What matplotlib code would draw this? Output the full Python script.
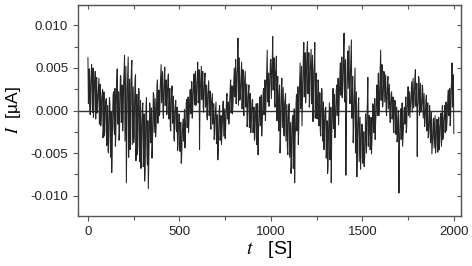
import numpy as np
import matplotlib.pyplot as plt
from matplotlib.ticker import MultipleLocator

# current, in units of 1e-3 uA
# samples at t = 0, 10, 20, ... 2000 s
step = 10
current = [
    6.2, 0.5, 5.4, -0.8, 4.6, -0.3, 3.8, -1.8, 2.5, -3.0,
    1.4, -4.8, 0.8, -7.3, 2.2, -4.2, 4.9, -3.5, 3.9, -2.4,
    6.5, -8.5, 6.3, -4.6, 5.9, -3.8, 4.2, -5.2, 2.0, -6.8,
    0.9, -8.3, 1.5, -9.2, 0.2, -5.6, 1.8, -3.1, 3.6, -0.6,
    5.4, 0.2, 5.1, -0.5, 4.3, -1.9, 2.9, -3.2, 1.2, -4.7,
    -0.6, -6.2, -1.0, -4.4, 1.3, -2.6, 2.5, -0.9, 4.3, 0.6,
    5.7, -4.6, 5.2, 0.4, 4.4, -0.6, 3.5, -1.8, 2.0, -3.4,
    1.0, -5.8, 0.6, -4.0, 1.1, -3.3, 2.0, -1.6, 3.6, -0.4,
    5.0, 0.8, 8.5, 1.2, 5.7, 0.3, 4.6, -1.9, 3.0, -2.6,
    1.3, -3.5, 0.8, -5.2, 1.6, -3.0, 2.6, -1.2, 7.1, 0.5,
    6.0, 8.7, 1.2, 6.4, -0.4, -5.0, 3.8, -2.1, 2.0, -4.4,
    0.8, -7.4, -0.6, -8.5, 1.9, -4.0, 5.6, -1.8, 8.0, 0.9,
    8.1, 0.4, 7.2, -1.3, 8.0, -0.2, 3.3, -2.4, 2.2, -4.6,
    0.4, -7.4, 0.9, -8.5, 2.6, -3.2, 3.0, -1.7, 5.6, 1.5,
    9.1, -7.6, 7.0, 2.0, 8.3, -3.8, 5.0, -7.8, 1.5, -6.9,
    -1.9, -6.6, -2.4, 3.9, -1.2, -5.1, 0.3, -3.4, 3.0, -0.6,
    7.1, 0.4, 4.4, 0.1, 4.0, -0.5, 2.2, -2.3, 1.0, -3.7,
    -9.7, 0.2, -4.2, 0.4, -2.6, 2.8, -0.8, 3.4, 0.3, 4.8,
    -5.4, 3.6, -0.2, 2.6, -1.9, 1.8, -3.2, -0.4, -5.1, -0.9,
    -5.0, -1.4, -4.6, -0.3, -3.4, 0.6, -2.4, 2.4, -1.8, 5.6,
    -2.7,
]
# samples at t = 5, 15, 25, ... 1995 s
current_mid = [
    2.1, 3.3, -0.2, 2.9, 1.0, 1.8, -0.9, 1.4, -2.2, 0.3,
    -2.6, -1.0, -5.5, -0.9, -2.8, 1.0, -1.2, 1.7, -0.8, 3.2,
    1.1, 2.4, -1.5, 3.0, -0.5, 1.0, -2.8, 0.1, -3.9, -1.5,
    -5.2, -2.6, -6.4, -3.2, -2.1, -1.5, -0.8, 0.5, 1.0, 2.6,
    3.0, 2.2, 1.6, 2.4, 0.5, 1.2, -1.0, -0.2, -2.5, -1.8,
    -3.6, -2.9, -2.3, -0.8, -1.0, 0.4, 0.2, 2.0, 1.5, 3.0,
    1.4, 2.8, 1.8, 2.7, 1.0, 1.9, 0.2, 0.9, -1.3, -0.6,
    -2.5, -1.9, -2.8, -1.2, -1.4, -0.5, -0.2, 1.2, 0.8, 2.1,
    3.0, 4.5, 3.6, 2.8, 2.2, 3.0, 1.0, 1.5, -0.4, 0.3,
    -1.6, -0.7, -2.5, -1.3, -0.9, -0.2, 0.2, 2.8, 2.5, 4.1,
    3.5, 4.0, 4.4, 2.5, 1.8, 0.6, 0.2, 0.9, -1.6, -0.9,
    -3.5, -2.2, -4.6, -2.0, -1.3, 1.6, 1.2, 3.9, 3.5, 5.2,
    4.1, 5.0, 2.8, 4.6, 2.5, 1.4, 0.5, 0.9, -1.2, -0.5,
    -3.8, -2.5, -4.4, -1.5, -0.8, 0.3, 0.6, 2.3, 3.0, 4.4,
    3.6, 2.5, 5.0, 4.4, 2.0, 1.0, -1.4, -2.0, -3.5, -2.5,
    -4.6, -4.0, -0.9, -2.6, -3.0, -1.6, -2.0, -0.3, 1.2, 2.5,
    3.6, 2.3, 2.6, 1.8, 1.6, 0.8, -0.3, 0.2, -1.6, -1.0,
    -2.6, -1.6, -2.0, -0.9, 0.3, 0.8, 1.2, 1.8, 2.6, 1.4,
    1.0, 1.4, 0.8, 0.4, 0.0, -1.1, -1.6, -2.6, -3.0, -2.4,
    -2.7, -3.2, -1.8, -2.2, -1.0, -1.3, 0.0, 0.4, 2.2, 1.0,
]
# samples at t = 2.5, 7.5, 12.5, ... 1997.5 s
current_quarter = [
    0.8, 4.9, -0.5, 4.2, 1.2, 5.0, 0.2, 3.6, -1.0, 3.9, 0.5, 2.7, -1.6, 3.1, -0.8, 1.9, -3.2, 2.2, -2.4, 1.0,
    -4.1, 0.6, -5.0, 1.5, -3.3, -0.2, -4.6, 1.8, -2.0, 2.6, -3.0, 3.4, -1.6, 2.2, -2.5, 4.1, -1.4, 3.0, -0.9, 4.6,
    -3.6, 5.2, -3.0, 4.4, -5.5, 3.7, -2.4, 4.8, -4.0, 2.8, -3.2, 3.6, -5.9, 1.9, -4.4, 2.6, -6.0, 1.2, -4.8, 0.4,
    -6.6, -0.4, -7.0, 0.6, -5.0, -1.2, -6.1, 0.9, -3.8, 0.3, -4.1, 2.1, -2.6, 1.4, -2.0, 3.0, -1.5, 2.4, -0.3, 4.0,
    0.9, 4.6, -0.9, 4.2, 0.6, 3.6, -0.4, 3.9, -1.0, 2.6, -2.4, 2.2, -1.5, 1.7, -3.6, 0.6, -2.2, 0.4, -4.0, -0.4,
    -4.8, -1.4, -5.4, -1.9, -3.6, 0.1, -3.2, 0.9, -2.0, 1.6, -1.2, 2.3, -0.4, 3.4, 0.0, 2.9, 0.7, 4.6, 0.9, 4.0,
    0.9, 4.8, 0.6, 4.1, 1.3, 4.6, -0.2, 3.8, 0.4, 3.0, -1.1, 2.8, -0.6, 2.3, -2.2, 1.4, -1.6, 0.8, -2.8, 0.3,
    -3.9, -0.5, -4.6, 0.1, -3.5, -0.6, -2.7, 0.8, -3.0, 0.2, -2.2, 1.4, -1.0, 1.0, -0.8, 2.6, -0.3, 2.9, 0.6, 3.3,
    1.6, 6.0, 2.0, 5.2, 0.6, 6.2, 1.5, 4.4, 0.2, 4.8, -0.6, 3.8, 0.4, 3.1, -1.2, 2.4, -2.0, 2.0, -1.4, 1.2,
    -2.6, 0.4, -3.2, -0.2, -4.0, 0.8, -2.3, 1.1, -1.8, 1.8, -1.4, 2.0, -0.5, 3.6, 0.4, 5.0, 1.0, 4.4, 1.8, 5.8,
    1.4, 5.6, 2.4, 6.2, 0.4, 4.8, -1.2, 4.0, -2.4, 3.0, -3.4, 2.5, -2.0, 2.7, -3.0, 1.3, -3.6, 0.7, -5.2, 0.3,
    -5.5, -1.4, -6.3, -0.9, -6.8, 0.2, -3.1, 0.8, -2.4, 2.8, -2.0, 3.6, 0.2, 5.2, 1.0, 6.4, 1.6, 6.8, 2.2, 7.1,
    2.0, 6.8, 1.6, 6.0, 0.8, 6.5, 1.1, 5.6, -0.9, 4.4, -1.0, 3.6, -1.8, 2.1, -3.0, 2.6, -3.6, 1.0, -2.9, 0.2,
    -5.6, -1.2, -6.6, -0.6, -5.8, 0.4, -2.8, 1.2, -2.1, 1.9, -1.0, 2.4, -0.6, 3.8, 0.5, 4.5, 1.8, 6.3, 2.4, 7.4,
    1.0, 6.0, -1.2, 5.6, 2.6, 7.6, 0.8, 6.2, -0.9, 4.0, -1.8, 3.0, -5.0, 2.2, -4.2, 0.6, -6.0, -0.8, -5.4, -1.6,
    -6.2, -2.5, -5.6, -0.4, -5.0, 1.1, -4.2, -0.6, -4.6, -0.8, -3.6, 0.8, -2.6, 1.4, -1.4, 2.0, -0.6, 4.4, 0.3, 4.8,
    1.2, 5.4, 0.6, 4.6, 1.0, 4.2, -0.6, 3.4, 0.2, 3.1, -1.4, 2.0, -1.0, 1.6, -2.6, 1.2, -2.8, 0.4, -3.0, 0.0,
    -4.4, -0.6, -3.4, 0.9, -3.0, 0.0, -1.6, 1.6, -1.8, 1.0, -0.6, 2.2, 0.3, 2.6, -0.2, 3.8, 0.8, 4.0, 0.5, 3.2,
    0.4, 4.0, -0.6, 3.2, 0.2, 3.0, -0.9, 2.0, -1.4, 1.2, -2.4, 0.9, -2.8, 0.6, -3.8, -0.2, -4.0, -1.0, -4.4, -0.6,
    -4.2, -1.0, -4.9, -0.8, -3.8, -1.6, -4.2, 0.6, -2.8, -0.4, -2.6, 1.0, -1.4, 1.6, -0.6, 2.6, -0.8, 3.4, 0.4, 4.2,
]

t_main = np.arange(len(current)) * step
t_mid = np.arange(len(current_mid)) * step + step / 2
t_quarter = np.arange(len(current_quarter)) * step / 2 + step / 4
t = np.concatenate([t_main, t_mid, t_quarter])
I = np.concatenate([current, current_mid, current_quarter]) * 1e-3
order = np.argsort(t)
t, I = t[order], I[order]

plt.rcParams['font.family'] = ['Liberation Sans', 'DejaVu Sans']
plt.rcParams['mathtext.fontset'] = 'stix'

fig = plt.figure(figsize=(4.72, 2.66), dpi=100)
ax = fig.add_axes([0.165, 0.188, 0.812, 0.793])

ax.axhline(0, color='#333333', lw=1.0, zorder=1)
ax.plot(t, I, color='#262626', lw=0.75, zorder=2)

ax.set_xlim(-55, 2040)
ax.set_ylim(-0.0124, 0.0124)
ax.xaxis.set_major_locator(MultipleLocator(500))
ax.xaxis.set_minor_locator(MultipleLocator(250))
ax.yaxis.set_major_locator(MultipleLocator(0.005))
ax.yaxis.set_minor_locator(MultipleLocator(0.0025))
ax.yaxis.set_major_formatter(plt.FuncFormatter(lambda v, p: f"{v:.3f}"))

for s in ax.spines.values():
    s.set_color('#555555')
    s.set_linewidth(1.0)

ax.tick_params(which='both', direction='out', length=3, width=0.8,
               color='#555555', labelsize=9.5, labelcolor='#222222')
ax.tick_params(which='major', length=3.5)

# inward ticks on top and right
sx = ax.secondary_xaxis('top')
sx.xaxis.set_major_locator(MultipleLocator(250))
sx.tick_params(direction='in', length=3, width=0.8, color='#555555', labeltop=False)
sx.spines['top'].set_color('#555555')
sy = ax.secondary_yaxis('right')
sy.yaxis.set_major_locator(MultipleLocator(0.0025))
sy.tick_params(direction='in', length=3, width=0.8, color='#555555', labelright=False)
sy.spines['right'].set_color('#555555')

ax.set_xlabel(r'$t$   [S]', fontsize=14, labelpad=1)
ax.set_ylabel(r'$I$  [µA]', fontsize=12.5, labelpad=5)

fig.savefig('out.png', dpi=100)
